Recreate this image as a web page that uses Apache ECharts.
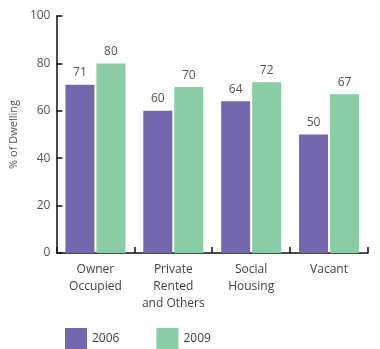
<!DOCTYPE html>
<html>
<head>
<meta charset="utf-8">
<script src="https://cdn.jsdelivr.net/npm/echarts@6/dist/echarts.min.js"></script>
<style>
  html, body { margin: 0; padding: 0; background: #fff; }
  #chart { width: 380px; height: 349px; }
</style>
</head>
<body>
<div id="chart"></div>
<script>
// Dwelling tenure shares by year
const categories = ['Owner\nOccupied', 'Private\nRented\nand Others', 'Social\nHousing', 'Vacant'];
const values2006 = [71, 60, 64, 50];
const values2009 = [80, 70, 72, 67];
const yTicks = [0, 20, 40, 60, 80, 100];

const textColor = '#555';
const font = 'Open Sans';

const chart = echarts.init(document.getElementById('chart'), null, { renderer: 'canvas' });

const labelStyle = {
  show: true,
  position: 'top',
  distance: 6,
  color: textColor,
  fontFamily: font,
  fontSize: 12
};

chart.setOption({
  animation: false,
  textStyle: { fontFamily: font },
  grid: { left: 56, right: 12, top: 16, bottom: 96, containLabel: false },
  legend: {
    left: 65,
    top: 328,
    padding: 0,
    itemWidth: 22,
    itemHeight: 22,
    itemGap: 37,
    icon: 'rect',
    textStyle: { color: '#444', fontFamily: font, fontSize: 12, padding: [12, 0, 0, 0] },
    data: ['2006', '2009']
  },
  xAxis: {
    type: 'category',
    data: categories,
    axisLine: { lineStyle: { color: '#111', width: 1.5 } },
    axisTick: { show: true, inside: true, length: 6, lineStyle: { color: '#111', width: 1.5 } },
    axisLabel: {
      interval: 0,
      color: '#444',
      fontFamily: font,
      fontSize: 12,
      lineHeight: 17,
      margin: 8
    }
  },
  yAxis: {
    type: 'value',
    min: yTicks[0],
    max: yTicks[yTicks.length - 1],
    interval: 20,
    name: '% of Dwelling',
    nameLocation: 'middle',
    nameGap: 30,
    nameTextStyle: { color: textColor, fontFamily: font, fontSize: 11 },
    axisLine: { show: true, lineStyle: { color: '#111', width: 1.5 } },
    axisTick: { show: true, inside: true, length: 6, lineStyle: { color: '#111', width: 1.5 } },
    axisLabel: { color: textColor, fontFamily: font, fontSize: 12, margin: 6 },
    splitLine: { show: false }
  },
  series: [
    {
      name: '2006',
      type: 'bar',
      data: values2006,
      barWidth: 29,
      barGap: '7%',
      itemStyle: { color: '#7467ad' },
      label: labelStyle
    },
    {
      name: '2009',
      type: 'bar',
      data: values2009,
      barWidth: 29,
      itemStyle: { color: '#88cda4' },
      label: labelStyle
    }
  ]
});
</script>
</body>
</html>
